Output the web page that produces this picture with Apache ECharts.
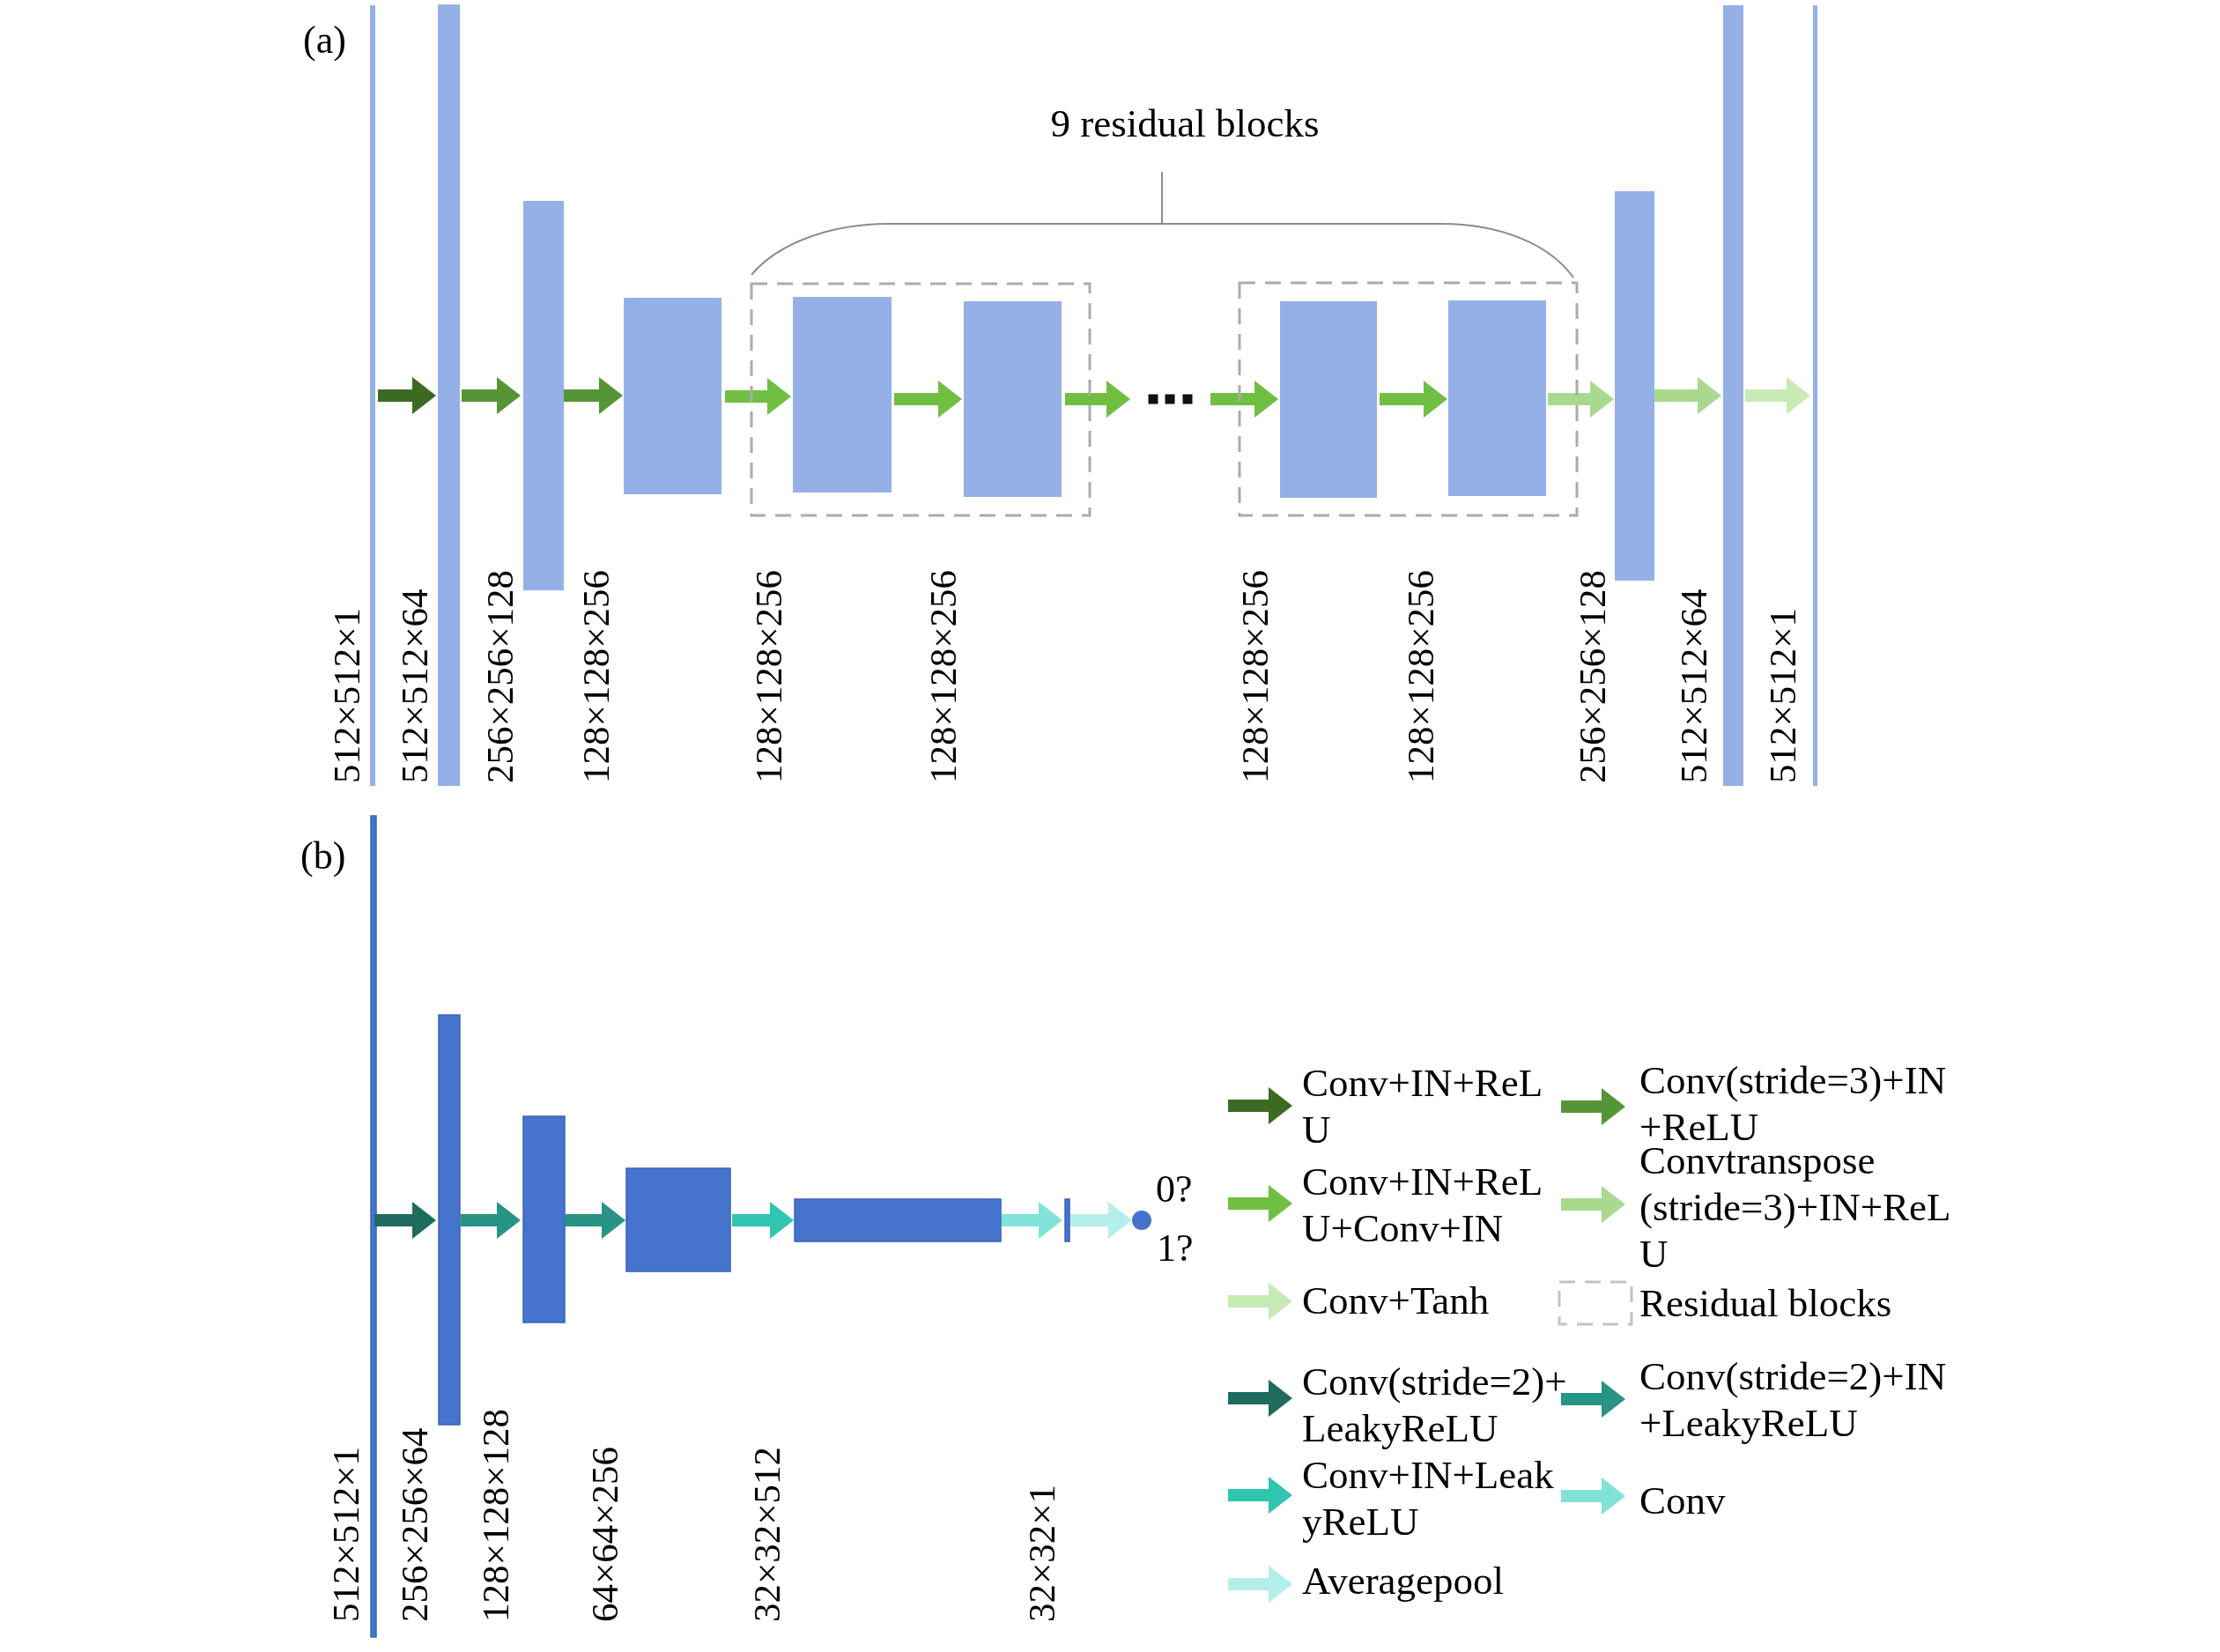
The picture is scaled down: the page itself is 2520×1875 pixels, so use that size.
<!DOCTYPE html>
<html>
<head>
<meta charset="utf-8">
<script src="https://cdn.jsdelivr.net/npm/echarts@6/dist/echarts.min.js"></script>
<style>
html, body { margin: 0; padding: 0; background: #fff; }
#main { width: 2520px; height: 1875px; }
</style>
</head>
<body>
<div id="main"></div>
<script>
// feature maps of the generator (a), [x0, x1, y0, y1] in image units
var genMaps = [
  [420, 426, 6, 892], [497, 522, 5, 892], [594, 640, 228, 670], [708, 819, 338, 561],
  [900, 1012, 337, 559], [1094, 1205, 342, 564], [1453, 1563, 342, 565], [1644, 1755, 341, 563],
  [1833, 1878, 217, 659], [1956, 1979, 6, 892], [2058, 2063, 6, 892]
];
var genSizes = ['512×512×1', '512×512×64', '256×256×128', '128×128×256', '128×128×256', '128×128×256',
  '128×128×256', '128×128×256', '256×256×128', '512×512×64', '512×512×1'];
var genSizeX = [397, 474, 571, 680, 876, 1074, 1428, 1616, 1811, 1926, 2027];
// arrows [x0, x1, y] and the operation each one stands for
var genArrows = [
  [429, 495, 449], [524, 591, 449], [640, 707, 449], [823, 898, 450], [1015, 1092, 453], [1209, 1283, 453],
  [1374, 1451, 453], [1566, 1643, 453], [1757, 1832, 453], [1878, 1954, 449], [1981, 2055, 449]
];
var genOps = ['c1', 'c3', 'c3', 'res', 'res', 'res', 'res', 'res', 'tr', 'tr', 'tanh'];
var residualBoxes = [[853, 1237, 322, 585], [1407, 1790, 321, 585]];
var skipDots = [[1309, 453], [1328, 453], [1348, 453]];

// discriminator (b)
var discMaps = [
  [421, 427, 926, 1858], [498, 522, 1152, 1617], [594, 641, 1267, 1501],
  [711, 829, 1326, 1443], [902, 1136, 1361, 1409], [1209, 1214, 1361, 1409]
];
var discSizes = ['512×512×1', '256×256×64', '128×128×128', '64×64×256', '32×32×512', '32×32×1'];
var discSizeX = [396, 474, 566, 690, 874, 1186];
var discArrows = [
  [425, 495, 1385], [523, 591, 1385], [641, 710, 1385], [831, 901, 1385], [1137, 1206, 1385], [1215, 1285, 1385]
];
var discOps = ['s2lrelu', 's2inlrelu', 's2inlrelu', 'inlrelu', 'conv', 'avg'];
var discOutput = [[1296, 1385]];
var outputLabels = ['0?', '1?'];

// legend entries
var opKeys = ['c1', 'c3', 'res', 'tr', 'tanh', 'box', 's2lrelu', 's2inlrelu', 'inlrelu', 'conv', 'avg'];
var opText = [
  ['Conv+IN+ReL', 'U'], ['Conv(stride=3)+IN', '+ReLU'], ['Conv+IN+ReL', 'U+Conv+IN'],
  ['Convtranspose', '(stride=3)+IN+ReL', 'U'], ['Conv+Tanh'], ['Residual blocks'],
  ['Conv(stride=2)+', 'LeakyReLU'], ['Conv(stride=2)+IN', '+LeakyReLU'], ['Conv+IN+Leak', 'yReLU'],
  ['Conv'], ['Averagepool']
];

// ---- layout / styles ----
var opColor = {
  c1: '#3B6A23', c3: '#569535', res: '#70BF42', tr: '#A9D98D', tanh: '#C8EBB5',
  s2lrelu: '#1F6B5D', s2inlrelu: '#289485', inlrelu: '#2FC5B1', conv: '#80E2D8', avg: '#B3EFEA'
};
// legend slot per entry: [column, arrow y, first text line centre]
var legendSlot = [
  [0, 1255, 1232], [1, 1256, 1229], [0, 1366, 1344], [1, 1367, 1320], [0, 1477, 1479], [1, 1479, 1482],
  [0, 1587, 1571], [1, 1588, 1565], [0, 1697, 1677], [1, 1698, 1706], [0, 1798, 1797]
];
var legendArrowX = [[1394, 1467], [1772, 1845]];
var legendTextX = [1478, 1861];
var lineGap = 53;
var serif = '"Liberation Serif", "Times New Roman", serif';

var myChart = echarts.init(document.getElementById('main'));

function rectSeries(data, fill, stroke) {
  return {
    type: 'custom', data: data, silent: true,
    renderItem: function (params, api) {
      var p0 = api.coord([api.value(0), api.value(2)]);
      var p1 = api.coord([api.value(1), api.value(3)]);
      return {
        type: 'rect',
        shape: { x: p0[0], y: p0[1], width: p1[0] - p0[0], height: p1[1] - p0[1] },
        style: { fill: fill, stroke: stroke || null, lineWidth: stroke ? 1.5 : 0 }
      };
    }
  };
}

function arrowSeries(data, ops) {
  return {
    type: 'custom', data: data, silent: true,
    renderItem: function (params, api) {
      var x0 = api.value(0), x1 = api.value(1), y = api.value(2);
      var h = x1 - 27;
      var pts = [[x0, y - 7], [h, y - 7], [h, y - 21], [x1, y], [h, y + 21], [h, y + 7], [x0, y + 7]]
        .map(function (p) { return api.coord(p); });
      return { type: 'polygon', shape: { points: pts }, style: { fill: opColor[ops[params.dataIndex]] } };
    }
  };
}

function dashSeries(data, color) {
  return {
    type: 'custom', data: data, silent: true, z: 5,
    renderItem: function (params, api) {
      var p0 = api.coord([api.value(0), api.value(2)]);
      var p1 = api.coord([api.value(1), api.value(3)]);
      return {
        type: 'rect',
        shape: { x: p0[0], y: p0[1], width: p1[0] - p0[0], height: p1[1] - p0[1] },
        style: { fill: 'none', stroke: color, lineWidth: 3, lineDash: [18, 11] }
      };
    }
  };
}

// items: [x, y, text, fontSize, rotated, align]
function textSeries(items) {
  return {
    type: 'custom', silent: true, z: 6,
    data: items.map(function (it) { return [it[0], it[1]]; }),
    renderItem: function (params, api) {
      var it = items[params.dataIndex];
      var p = api.coord([api.value(0), api.value(1)]);
      return {
        type: 'text', x: p[0], y: p[1], rotation: it[4] ? Math.PI / 2 : 0,
        style: {
          text: it[2], fill: '#000', font: it[3] + 'px ' + serif,
          align: it[5] || 'left', verticalAlign: 'middle'
        }
      };
    }
  };
}

// texts
var texts = [];
genSizes.forEach(function (s, i) { texts.push([genSizeX[i], 889, s, 43, true]); });
discSizes.forEach(function (s, i) { texts.push([discSizeX[i], 1841, s, 43, true]); });
texts.push([344, 48, '(a)', 44, false]);
texts.push([341, 974, '(b)', 44, false]);
texts.push([1345, 143, '9 residual blocks', 45, false, 'center']);
texts.push([1312, 1352, outputLabels[0], 44, false]);
texts.push([1313, 1419, outputLabels[1], 44, false]);
opText.forEach(function (lines, i) {
  var s = legendSlot[i];
  lines.forEach(function (t, k) { texts.push([legendTextX[s[0]], s[2] + k * lineGap, t, 45, false]); });
});

// legend arrows
var legArrows = [], legOps = [];
opKeys.forEach(function (k, i) {
  if (k === 'box') return;
  var s = legendSlot[i];
  legArrows.push([legendArrowX[s[0]][0], legendArrowX[s[0]][1], s[1]]);
  legOps.push(k);
});
var legBoxIdx = opKeys.indexOf('box');
var legBox = [[1770, 1852, legendSlot[legBoxIdx][1] - 24, legendSlot[legBoxIdx][1] + 24]];

// bracket over the residual blocks
var bracketSeries = {
  type: 'custom', silent: true, data: [[0, 0]],
  renderItem: function (params, api) {
    var L = residualBoxes[0][0], R = residualBoxes[1][1] - 4;
    var yb = residualBoxes[0][2] - 10, yt = 254;
    var mid = 1319;
    var c = function (x, y) { return api.coord([x, y]); };
    var st = { stroke: '#8C8C8C', lineWidth: 2, fill: 'none' };
    var a = c(L, yb), a1 = c(L + 30, yt + 22), a2 = c(L + 90, yt), a3 = c(L + 156, yt);
    var b = c(R - 150, yt), b1 = c(R - 85, yt), b2 = c(R - 28, yt + 22), b3 = c(R, yb + 3);
    var t0 = c(mid, 195), t1 = c(mid, yt);
    return {
      type: 'group', children: [
        { type: 'bezierCurve', shape: { x1: a[0], y1: a[1], cpx1: a1[0], cpy1: a1[1], cpx2: a2[0], cpy2: a2[1], x2: a3[0], y2: a3[1] }, style: st },
        { type: 'line', shape: { x1: a3[0], y1: a3[1], x2: b[0], y2: b[1] }, style: st },
        { type: 'bezierCurve', shape: { x1: b[0], y1: b[1], cpx1: b1[0], cpy1: b1[1], cpx2: b2[0], cpy2: b2[1], x2: b3[0], y2: b3[1] }, style: st },
        { type: 'line', shape: { x1: t0[0], y1: t0[1], x2: t1[0], y2: t1[1] }, style: st }
      ]
    };
  }
};

var option = {
  animation: false,
  backgroundColor: '#fff',
  grid: { left: 0, right: 0, top: 0, bottom: 0 },
  xAxis: { type: 'value', min: 0, max: 2520, show: false },
  yAxis: { type: 'value', min: 0, max: 1875, inverse: true, show: false },
  series: [
    rectSeries(genMaps, '#94B0E6'),
    rectSeries(discMaps, '#4674CC', '#3A63B6'),
    arrowSeries(genArrows, genOps),
    arrowSeries(discArrows, discOps),
    arrowSeries(legArrows, legOps),
    dashSeries(residualBoxes, '#ABABAB'),
    dashSeries(legBox, '#C4C4C4'),
    bracketSeries,
    { type: 'scatter', silent: true, data: skipDots, symbol: 'rect', symbolSize: 11, itemStyle: { color: '#111', opacity: 1 } },
    { type: 'scatter', silent: true, data: discOutput, symbol: 'circle', symbolSize: 22, itemStyle: { color: '#4472CC', opacity: 1 } },
    textSeries(texts)
  ]
};
myChart.setOption(option);
</script>
</body>
</html>
